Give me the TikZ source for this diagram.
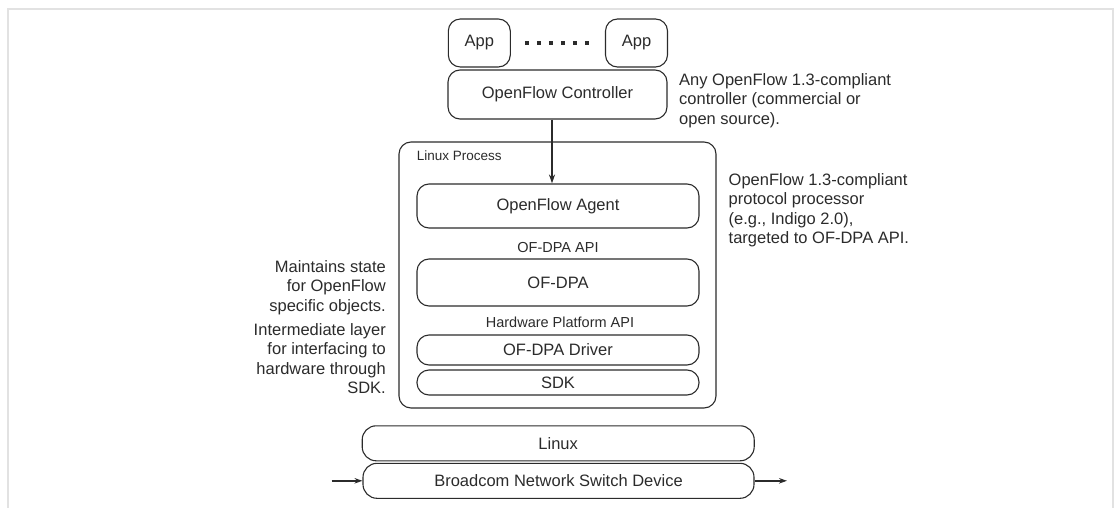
\documentclass[tikz,border=0pt]{standalone}
\usepackage{fontspec}
\setmainfont{Liberation Sans}
\usetikzlibrary{arrows.meta}
\definecolor{ink}{HTML}{2B2B2B}
\definecolor{framegray}{HTML}{E2E2E2}
\begin{document}
\begin{tikzpicture}[x=1pt,y=-1pt,
  box/.style={draw=ink,line width=1.1pt,rounded corners=12pt,inner sep=0pt,
    text=ink,font=\fontsize{16.5}{19.5}\selectfont},
  apilabel/.style={text=ink,font=\fontsize{14.5}{17}\selectfont,inner sep=0pt},
  sidetext/.style={text=ink,font=\fontsize{16.5}{19.5}\selectfont,inner sep=0pt},
  conn/.style={draw=ink,line width=1.7pt,-{Stealth[length=9pt,width=6pt]}}]
\useasboundingbox (0,0) rectangle (1118,508);
% frame
\draw[framegray,line width=1.6pt] (8,508) -- (8,9) -- (1113,9) -- (1113,508);
% apps
\node[box,minimum width=62pt,minimum height=48pt] (app1) at (479.3,43) {App};
\node[box,minimum width=62pt,minimum height=48pt] (app2) at (636.5,43) {App};
\draw[ink,line width=4pt,dash pattern=on 4pt off 8pt] ([xshift=14pt]app1.east) -- ([xshift=-14pt]app2.west);
\node[box,minimum width=219pt,minimum height=49pt] (ctrl) at (557.5,94.5) {OpenFlow Controller};
% linux process
\node[box,minimum width=317pt,minimum height=266pt] (lp) at (557.5,275) {};
\node[text=ink,font=\fontsize{13.5}{16}\selectfont,inner sep=0pt,anchor=west] (lplabel) at (416.7,155.5) {Linux Process};
\node[box,minimum width=282pt,minimum height=44pt] (agent) at (558,206) {OpenFlow Agent};
\node[apilabel] (api1) at (558,248) {OF-DPA API};
\node[box,minimum width=282pt,minimum height=47pt] (ofdpa) at (558,282.5) {OF-DPA};
\node[apilabel] (api2) at (560,322) {Hardware Platform API};
\node[box,minimum width=282pt,minimum height=30pt] (driver) at (558,350) {OF-DPA Driver};
\node[box,minimum width=282pt,minimum height=25pt] (sdk) at (558,382.5) {SDK};
% linux and device
\node[box,minimum width=392pt,minimum height=35pt,rounded corners=14pt] (linux) at (558.2,443.3) {Linux};
\node[box,minimum width=391pt,minimum height=35pt,rounded corners=14pt] (bcm) at (558.5,480.8) {Broadcom Network Switch Device};
% arrows
\draw[conn] ([xshift=-5.5pt]ctrl.south) -- ([xshift=-6pt]agent.north);
\coordinate (inport) at (331.7,480.8);
\coordinate (outport) at (787,480.8);
\draw[conn,line width=1.5pt,-{Stealth[length=8pt,width=5.5pt]}] (inport) -- (bcm.west);
\draw[conn,line width=1.5pt,-{Stealth[length=8pt,width=5.5pt]}] (bcm.east) -- (outport);
% side texts
\node[sidetext,anchor=west,align=left] (t1) at (679,100.5) {Any OpenFlow 1.3-compliant\\controller (commercial or\\open source).};
\node[sidetext,anchor=west,align=left] (t2) at (728.5,210) {OpenFlow 1.3-compliant\\protocol processor\\(e.g., Indigo 2.0),\\targeted to OF-DPA API.};
\node[sidetext,anchor=east,align=right] (t3) at (386,287.5) {Maintains state\\for OpenFlow\\specific objects.};
\node[sidetext,anchor=east,align=right] (t4) at (386,358.5) {Intermediate layer\\for interfacing to\hspace*{4pt}\\hardware through\hspace*{2pt}\\SDK.};
\end{tikzpicture}
\end{document}
